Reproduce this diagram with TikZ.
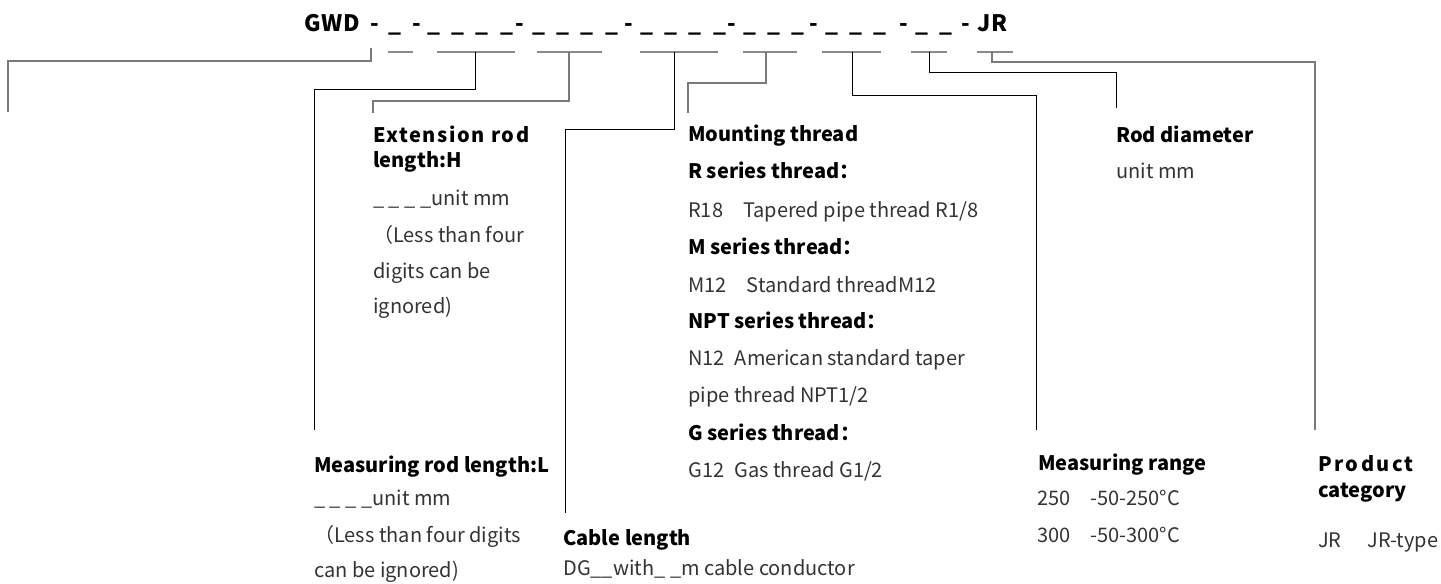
\documentclass[tikz,border=0pt]{standalone}
\usepackage{fontspec}
\setmainfont{Noto Sans CJK SC}
\usepackage{tikz}

\definecolor{bodygray}{HTML}{333333}
\definecolor{linegray}{HTML}{7A7A7A}
\definecolor{seggray}{HTML}{8A8A8A}

\newcommand{\bodysize}{\fontsize{15}{18}\selectfont}
\newcommand{\gap}{\hspace{0.5em}}

\tikzset{
  head/.style={anchor=base west, inner sep=0pt, font=\fontsize{17}{18}\selectfont\bfseries},
  title/.style={anchor=base west, inner sep=0pt, text=black, font=\bodysize\bfseries},
  body/.style={anchor=base west, inner sep=0pt, text=bodygray, font=\bodysize},
  blk/.style={black, line width=0.75pt},
  gry/.style={linegray, line width=0.9pt},
  seg/.style={seggray, line width=1.5pt}
}

\begin{document}
\begin{tikzpicture}[x=0.75pt,y=-0.75pt]
		\useasboundingbox (0,0) rectangle (1441,583);
		% model code
		\node[head] (gwd) at (304,31) {\addfontfeature{LetterSpace=4}GWD};
		\node[head] (d1) at (370,31) {-};
		\node[head] (u1) at (388,31) {\_};
		\node[head] (d2) at (412,31) {-};
		\node[head] (u2) at (427,31) {\_\gap\_\gap\_\gap\_};
		\node[head] (d3) at (515,31) {-};
		\node[head] (u3) at (532,31) {\_\gap\_\gap\_\gap\_};
		\node[head] (d4) at (624,31) {-};
		\node[head] (u4) at (640,31) {\_\gap\_\gap\_\gap\_};
		\node[head] (d5) at (727,31) {-};
		\node[head] (u5) at (743,31) {\_\gap\_\gap\_};
		\node[head] (d6) at (809,31) {-};
		\node[head] (u6) at (825,31) {\_\gap\_\gap\_};
		\node[head] (d7) at (899,31) {-};
		\node[head] (u7) at (915,31) {\_\gap\_};
		\node[head] (d8) at (961,31) {-};
		\node[head] (jr) at (977,31) {\addfontfeature{LetterSpace=4}JR};
		\draw[seg] (388,52) -- (413,52);
		\draw[seg] (437,52) -- (515,52);
		\draw[seg] (537,52) -- (602,52);
		\draw[seg] (640,52) -- (718,52);
		\draw[seg] (743,52) -- (797,52);
		\draw[seg] (822,52) -- (881,52);
		\draw[seg] (911,52) -- (947,52);
		\draw[seg] (977,52) -- (1013,52);
		% tap points
		\coordinate (t1) at (371,48);
		\coordinate (t2) at (475,52);
		\coordinate (t3) at (569,52);
		\coordinate (t4) at (674,52);
		\coordinate (t5) at (766,52);
		\coordinate (t6) at (852,52);
		\coordinate (t7) at (929,52);
		\coordinate (t8) at (992,52);
		% line ends
		\coordinate (e1) at (8,112);
		\coordinate (eL) at (314,430);
		\coordinate (eH) at (373,113);
		\coordinate (eC) at (565,513);
		\coordinate (eM) at (688,113);
		\coordinate (eR) at (1036,430);
		\coordinate (eD) at (1116,108);
		\coordinate (eP) at (1315,430);
		% connectors
		\draw[gry] (t1) -- ++(0,13) -| (e1);
		\draw[blk] (t2) -- ++(0,37) -| (eL);
		\draw[gry] (t3) -- ++(0,49) -| (eH);
		\draw[blk] (t4) -- ++(0,77) -| (eC);
		\draw[gry] (t5) -- ++(0,31) -| (eM);
		\draw[blk] (t6) -- ++(0,43) -| (eR);
		\draw[blk] (t7) -- ++(0,20) -| (eD);
		\draw[gry] (t8) -- ++(0,10) -| (eP);
		% extension rod
		\node[title] (extA) at (373,142) {\addfontfeature{LetterSpace=8}Extension rod};
		\node[title] (extB) at (373,167) {length:H};
		\node[body] (extC) at (373,205) {\_ \_ \_ \_unit mm};
		\node[body] (extD) at (373,242) {（Less than four};
		\node[body] (extE) at (373,278) {digits can be};
		\node[body] (extF) at (373,313) {ignored)};
		% measuring rod
		\node[title] (lenA) at (314,472) {Measuring rod length:L};
		\node[body] (lenB) at (314,505) {\_ \_ \_ \_unit mm};
		\node[body] (lenC) at (314,542) {（Less than four digits};
		\node[body] (lenD) at (314,577) {can be ignored)};
		% cable
		\node[title] (cabA) at (563,545) {Cable length};
		\node[body] (cabB) at (563,575) {DG\_\_with\_ \_m cable conductor};
		% mounting thread
		\node[title] (thrA) at (688,141) {Mounting thread};
		\node[title] (thrB) at (688,178) {R series thread：};
		\node[body] (thrC) at (688,217) {R18\quad Tapered pipe thread R1/8};
		\node[title] (thrD) at (688,254) {M series thread：};
		\node[body] (thrE) at (688,292) {M12\quad Standard threadM12};
		\node[title] (thrF) at (688,328) {NPT series thread：};
		\node[body] (thrG) at (688,365) {N12\enspace American standard taper};
		\node[body] (thrH) at (688,402) {pipe thread NPT1/2};
		\node[title] (thrI) at (688,440) {G series thread：};
		\node[body] (thrJ) at (688,477) {G12\enspace Gas thread G1/2};
		% rod diameter
		\node[title] (diaA) at (1116,142) {Rod diameter};
		\node[body] (diaB) at (1116,178) {unit mm};
		% measuring range
		\node[title] (rngA) at (1038,470) {Measuring range};
		\node[body] (rngB) at (1037,505) {250\quad -50-250°C};
		\node[body] (rngC) at (1037,542) {300\quad -50-300°C};
		% product category
		\node[title] (catA) at (1318,471) {\addfontfeature{LetterSpace=12}Product};
		\node[title] (catB) at (1318,497) {category};
		\node[body] (catC) at (1318,547) {JR\hspace{1.3em}JR-type};
\end{tikzpicture}
\end{document}
